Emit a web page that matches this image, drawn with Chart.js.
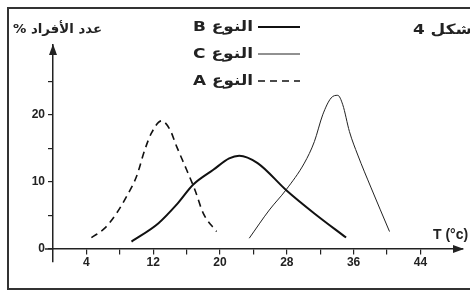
<!DOCTYPE html>
<html>
<head>
<meta charset="utf-8">
<script src="https://cdn.jsdelivr.net/npm/chart.js@4.4.1/dist/chart.umd.min.js"></script>
<style>
    html, body { margin: 0; padding: 0; background: #fff; overflow: hidden; }
    #wrap { position: relative; width: 470px; height: 291px; }
</style>
</head>
<body>
<div id="wrap"><canvas id="chart" width="470" height="291"></canvas></div>
<script>
// values (temperature °C, % of individuals)
const tempA = [4.6, 6.2, 7.6, 8.8, 10.0, 11.0, 11.8, 13.0, 14.0, 14.8, 16.0, 17.0, 18.0, 19.6];
const countA = [1.7, 3.1, 5.3, 7.8, 10.8, 14.8, 17.3, 19.1, 17.8, 15.3, 11.8, 8.8, 5.3, 2.6];

const tempB = [9.4, 12.6, 14.8, 16.8, 19.2, 21.1, 22.3, 24.5, 27.9, 31.3, 35.1];
const countB = [1.1, 3.8, 6.6, 9.6, 11.8, 13.5, 13.9, 12.8, 8.8, 5.3, 1.7];

const tempC = [23.5, 25.9, 27.9, 30.1, 31.3, 32.3, 33.3, 34.1, 34.7, 35.5, 36.5, 38.1, 40.3];
const countC = [1.6, 5.8, 8.8, 12.8, 16.0, 20.0, 22.5, 22.9, 21.5, 17.5, 14.0, 9.1, 2.6];

const xTicks = [4, 8, 12, 16, 20, 24, 28, 32, 36, 40, 44];
const xLabels = [4, 12, 20, 28, 36, 44];
const yTicks = [0, 5, 10, 15, 20, 25];
const yLabels = [0, 10, 20];

const seriesNames = ['النوع B', 'النوع C', 'النوع A'];

function toPoints(xs, ys) {
    return xs.map((x, i) => ({ x: x, y: ys[i] }));
}

const ink = '#222';
const tickFont = { family: 'Liberation Sans', size: 12, weight: 'bold' };

// right aligned arabic text squeezed/stretched to a given width
function fitText(ctx, text, right, y, width) {
    const w = ctx.measureText(text).width;
    ctx.save();
    ctx.translate(right, y);
    ctx.scale(width / w, 1);
    ctx.fillText(text, 0, 0);
    ctx.restore();
}

// frame, titles, legend and axis arrows
const decorations = {
    id: 'decorations',
    beforeDraw(chart) {
        const ctx = chart.ctx;
        ctx.save();
        ctx.fillStyle = '#fff';
        ctx.fillRect(0, 0, chart.width, chart.height);
        ctx.strokeStyle = '#333';
        ctx.lineWidth = 2;
        ctx.strokeRect(8, 8, 480, 281);
        ctx.restore();
    },
    afterDraw(chart) {
        const ctx = chart.ctx;
        const xs = chart.scales.x;
        const ys = chart.scales.y;
        const x0 = xs.getPixelForValue(0);
        const y0 = ys.getPixelForValue(0);
        const xEnd = xs.right;
        const yTop = ys.top;

        ctx.save();
        ctx.strokeStyle = ink;
        ctx.fillStyle = ink;
        // x axis runs a little left of the y axis
        ctx.lineWidth = 1.5;
        ctx.beginPath();
        ctx.moveTo(x0 - 8, y0);
        ctx.lineTo(x0, y0);
        ctx.stroke();

        // arrow heads
        ctx.beginPath();
        ctx.moveTo(xEnd + 1, y0);
        ctx.lineTo(xEnd - 10, y0 - 4);
        ctx.lineTo(xEnd - 10, y0 + 4);
        ctx.closePath();
        ctx.fill();
        ctx.beginPath();
        ctx.moveTo(x0, yTop - 1);
        ctx.lineTo(x0 - 4, yTop + 10);
        ctx.lineTo(x0 + 4, yTop + 10);
        ctx.closePath();
        ctx.fill();

        // arabic texts
        ctx.direction = 'rtl';
        ctx.textAlign = 'right';
        ctx.textBaseline = 'middle';
        ctx.font = 'bold 13px "DejaVu Sans"';
        fitText(ctx, 'عدد الأفراد %', 102, 30, 89);
        ctx.font = 'bold 14px "DejaVu Sans"';
        fitText(ctx, 'شكل 4', 472, 30, 59);

        const legendY = [27, 54, 81];
        seriesNames.forEach((name, i) => {
            fitText(ctx, name, 253, legendY[i], 60);
        });

        // legend line samples
        chart.data.datasets.forEach((d, i) => {
            ctx.beginPath();
            ctx.strokeStyle = d.borderColor;
            ctx.lineWidth = d.borderWidth;
            ctx.setLineDash(d.borderDash || []);
            ctx.moveTo(258, legendY[i]);
            ctx.lineTo(300, legendY[i]);
            ctx.stroke();
        });
        ctx.setLineDash([]);

        ctx.direction = 'ltr';
        ctx.textAlign = 'left';
        ctx.font = 'bold 14px "Liberation Sans"';
        ctx.fillText('T (°c)', 433, 235);
        ctx.restore();
    }
};

const ctx = document.getElementById('chart').getContext('2d');
new Chart(ctx, {
    type: 'line',
    data: {
        datasets: [
            {
                label: seriesNames[0],
                data: toPoints(tempB, countB),
                borderColor: '#111',
                borderWidth: 2,
                cubicInterpolationMode: 'monotone'
            },
            {
                label: seriesNames[1],
                data: toPoints(tempC, countC),
                borderColor: '#222',
                borderWidth: 1,
                cubicInterpolationMode: 'monotone'
            },
            {
                label: seriesNames[2],
                data: toPoints(tempA, countA),
                borderColor: '#111',
                borderWidth: 1.6,
                borderDash: [7, 5],
                cubicInterpolationMode: 'monotone'
            }
        ]
    },
    options: {
        responsive: false,
        animation: false,
        events: [],
        layout: { padding: { left: 0, right: 7, top: 45, bottom: 29 } },
        elements: { point: { radius: 0 } },
        plugins: {
            legend: { display: false },
            tooltip: { enabled: false }
        },
        scales: {
            x: {
                type: 'linear',
                position: { y: 0 },
                min: 0,
                max: 49.1,
                afterFit(scale) { scale.height = 0; },
                afterBuildTicks(scale) {
                    scale.ticks = xTicks.map(v => ({ value: v }));
                },
                border: { display: true, color: ink, width: 1.5 },
                grid: {
                    drawOnChartArea: false,
                    drawTicks: true,
                    tickLength: 5,
                    color: ink,
                    lineWidth: 1.2
                },
                ticks: {
                    autoSkip: false,
                    maxRotation: 0,
                    padding: 2,
                    color: ink,
                    font: tickFont,
                    callback: v => xLabels.includes(v) ? String(v) : ''
                }
            },
            y: {
                type: 'linear',
                position: 'left',
                min: -1.94,
                max: 30.4,
                afterFit(scale) { scale.width = 53; },
                afterBuildTicks(scale) {
                    scale.ticks = yTicks.map(v => ({ value: v }));
                },
                border: { display: true, color: ink, width: 1.5 },
                grid: {
                    drawOnChartArea: false,
                    drawTicks: true,
                    tickLength: 5,
                    color: ink,
                    lineWidth: 1.2
                },
                ticks: {
                    autoSkip: false,
                    padding: 3,
                    color: ink,
                    font: tickFont,
                    callback: v => yLabels.includes(v) ? String(v) : ''
                }
            }
        }
    },
    plugins: [decorations]
});
</script>
</body>
</html>
